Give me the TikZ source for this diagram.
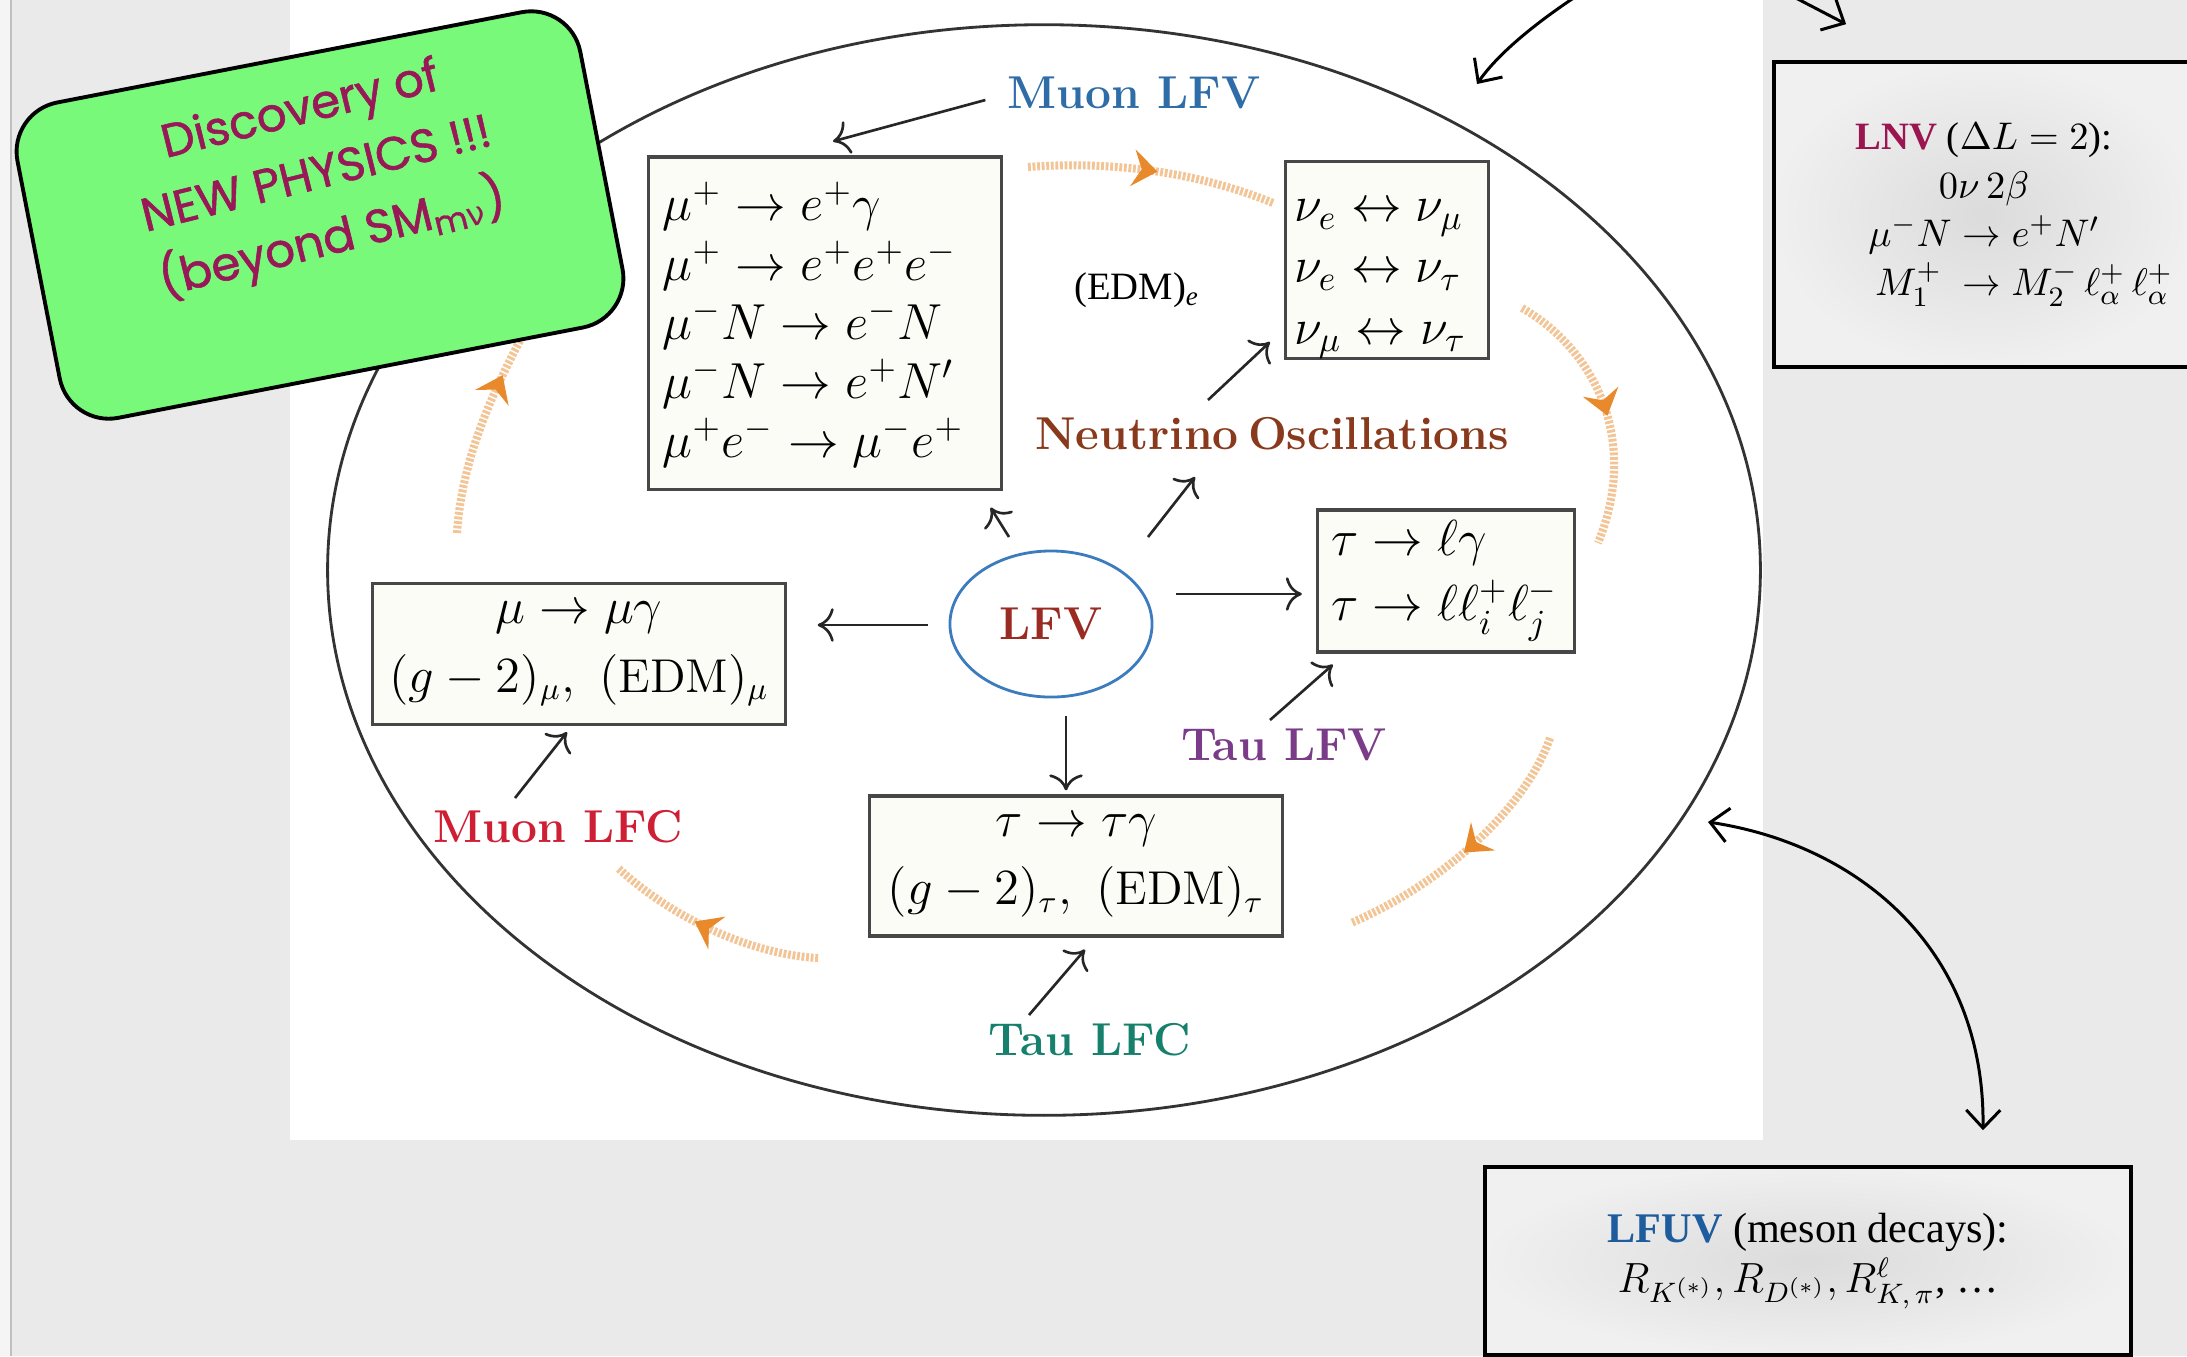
\documentclass[tikz,border=0pt]{standalone}
\usepackage{amsmath}
\usepackage{fontspec}
\usepackage{tikz}
\usetikzlibrary{positioning,arrows.meta,calc,shapes.geometric,decorations.markings}
\newfontfamily\timesfont{Liberation Serif}
\newfontfamily\comicfont{Poppins}[FakeBold=1.2]
\newfontfamily\greekfont{DejaVu Sans}
\definecolor{colFondo}{HTML}{EAEAEA}
\definecolor{colCaja}{HTML}{FCFCF6}
\definecolor{colVerde}{HTML}{78F97A}
\definecolor{colNP}{HTML}{981858}
\definecolor{colNaranja}{HTML}{E8892B}
\definecolor{colMuonLFV}{HTML}{2F6DA8}
\definecolor{colNuOsc}{HTML}{8A3A1C}
\definecolor{colLFV}{HTML}{9A2B22}
\definecolor{colElipse}{HTML}{3C7BBE}
\definecolor{colTauLFV}{HTML}{7A3C88}
\definecolor{colMuonLFC}{HTML}{CF1F35}
\definecolor{colTauLFC}{HTML}{15806C}
\definecolor{colLNV}{HTML}{9B1550}
\definecolor{colLFUV}{HTML}{1E5C9E}

\begin{document}
\begin{tikzpicture}[
        x=0.01cm,
        y=-0.01cm,
        >={To[scale=1.4]},
        barba/.tip={Straight Barb[length=1.8mm,width=3.4mm]},
        etiq/.style={font=\fontsize{13.1}{15}\selectfont\bfseries, inner sep=1pt},
        caja/.style={draw=black!72, line width=0.9pt, fill=colCaja, inner sep=0pt, font=\fontsize{14}{16}\selectfont},
        cajagris/.style={draw=black, line width=1pt, shading=radial, inner color=black!14, outer color=black!6, inner sep=0pt},
        flecha/.style={->, line width=0.75pt, black!85},
        curva/.style={-barba, line width=0.85pt, black},
        naranja/.style={draw=colNaranja!50, line width=2.3pt, dash pattern=on 0.8pt off 0.5pt,
            postaction={decorate},
            decoration={markings, mark=at position #1 with {\fill[colNaranja] (0,0) -- (-2.5mm,1.85mm) -- (-1.6mm,0) -- (-2.5mm,-1.85mm) -- cycle;}}},
        naranja/.default=0.52
    ]
        \useasboundingbox (0,0) rectangle (2187,1356);
        \clip (0,0) rectangle (2187,1356);

        % Fondo: diapositiva gris con la figura blanca encima.
        \fill[colFondo] (0,0) rectangle (2187,1356);
        \fill[black!4] (0,0) rectangle (10,1356);
        \draw[black!25, line width=0.8pt] (11,0) -- (11,1356);
        \fill[white] (290,0) rectangle (1763,1140);

        % Elipse exterior y ciclo naranja.
        \draw[black!80, line width=0.8pt] (1044,570) ellipse [x radius=7.16cm, y radius=5.45cm];
        \draw[naranja] (1028,167) .. controls (1120,160) and (1205,175) .. (1273,203);
        \draw[naranja] (1522,308) .. controls (1595,350) and (1640,440) .. (1598,543);
        \draw[naranja] (1550,738) .. controls (1525,810) and (1440,885) .. (1351,923);
        \draw[naranja=0.58] (818,958) .. controls (760,955) and (680,925) .. (618,868);
        \draw[naranja=0.72] (457,533) .. controls (462,460) and (490,395) .. (532,318);

        % Procesos.
        \node[caja, minimum width=3.52cm, minimum height=3.32cm, text width=3.24cm, align=left, font=\fontsize{14}{16.8}\selectfont] (muonbox) at (825,323)
            {\rule{0pt}{0.42cm}$\mu^+\to e^+\gamma$\\ $\mu^+\to e^+e^+e^-$\\ $\mu^-N\to e^-N$\\ $\mu^-N\to e^+N'$\\ $\mu^+e^-\to\mu^-e^+$};
        \node[caja, minimum width=2.03cm, minimum height=1.96cm, text width=1.85cm, align=left, font=\fontsize{14}{17.4}\selectfont] (nubox) at (1387,260)
            {\rule{0pt}{0.6cm}$\nu_e\leftrightarrow\nu_\mu$\\ $\nu_e\leftrightarrow\nu_\tau$\\ $\nu_\mu\leftrightarrow\nu_\tau$};
        \node[caja, minimum width=2.57cm, minimum height=1.42cm, text width=2.29cm, align=left, font=\fontsize{14}{15.4}\selectfont] (taubox) at (1446,581)
            {$\tau\to\ell\gamma$\\[3pt] $\tau\to\ell\ell_i^+\ell_j^-$};
        \node[caja, minimum width=4.12cm, minimum height=1.41cm, align=center, font=\fontsize{13.5}{15.4}\selectfont] (muclbox) at (579,654)
            {$\mu\to\mu\gamma$\\[4pt] $(g-2)_\mu,\ (\mathrm{EDM})_\mu$};
        \node[caja, minimum width=4.12cm, minimum height=1.40cm, align=center, font=\fontsize{13.5}{15.4}\selectfont] (tauclbox) at (1076,866)
            {$\tau\to\tau\gamma$\\[4pt] $(g-2)_\tau,\ (\mathrm{EDM})_\tau$};
        \node[font=\timesfont\fontsize{11}{13}\selectfont] (edme) at (1137,290) {(EDM)\textsubscript{\itshape e}};

        \node[ellipse, draw=colElipse, line width=0.8pt, minimum width=2.02cm, minimum height=1.46cm, etiq, text=colLFV] (lfv) at (1051,624) {LFV};

        % Etiquetas de cada sector.
        \node[etiq, text=colMuonLFV] (muonlfv) at (1134,93) {Muon LFV};
        \node[etiq, text=colNuOsc] (nuosc) at (1272,434) {Neutrino\hspace{0.2em}Oscillations};
        \node[etiq, text=colTauLFV] (taulfv) at (1284,745) {Tau LFV};
        \node[etiq, text=colMuonLFC] (muonlfc) at (558,827) {Muon LFC};
        \node[etiq, text=colTauLFC] (taulfc) at (1090,1040) {Tau LFC};

        \draw[flecha] ($(muonlfv.west)+(-18,7)$) -- ($(muonbox.north)+(8,-14)$);
        \draw[flecha] ($(nuosc)+(-64,-34)$) -- ($(nubox.south west)+(-14,-18)$);
        \draw[flecha] ($(lfv)+(-42,-87)$) -- ($(muonbox.south east)+(-12,17)$);
        \draw[flecha] ($(lfv)+(97,-87)$) -- ($(nuosc)+(-77,43)$);
        \draw[flecha] ($(lfv.east)+(23,-30)$) -- ($(taubox.west)+(-14,13)$);
        \draw[flecha] ($(lfv.west)+(-21,1)$) -- ($(muclbox.east)+(31,-29)$);
        \draw[flecha] ($(lfv.south)+(15,18)$) -- ($(tauclbox.north)+(-10,-4)$);
        \draw[flecha] ($(taulfv)+(-14,-25)$) -- ($(taubox.south west)+(17,11)$);
        \draw[flecha] ($(muonlfc)+(-43,-29)$) -- ($(muclbox.south)+(-12,6)$);
        \draw[flecha] ($(taulfc)+(-61,-25)$) -- ($(tauclbox.south)+(9,12)$);

        % Recuadro verde girado.
        \node[draw=black, line width=1.1pt, fill=colVerde, rounded corners=0.5cm, rotate=11, minimum width=5.73cm, minimum height=3.21cm] (np) at (320,215) {};
        \node[rotate=14, text=colNP, font=\comicfont\fontsize{13.3}{19}\selectfont, align=center] (nptxt) at (317,177)
            {Discovery of\\NEW PHYSICS !!!\\(beyond SM\textsubscript{m{\greekfont ν}})};

        % Cajas de la derecha (LNV y LFUV).
        \node[cajagris, minimum width=4.2cm, minimum height=3.05cm, align=center, font=\timesfont\fontsize{11}{13.8}\selectfont] (lnv) at (1984,214.5)
            {{\bfseries\color{colLNV}LNV} ($\Delta L=2$):\\ $0\nu\,2\beta$\\ $\mu^-N\to e^+N'$\\ \hspace*{0.8cm}$M_1^+\ \to M_2^-\,\ell_\alpha^+\,\ell_\alpha^+$};
        \node[cajagris, minimum width=6.46cm, minimum height=1.88cm, align=center, font=\timesfont\fontsize{12}{14.2}\selectfont] (lfuv) at (1808,1261)
            {{\bfseries\color{colLFUV}LFUV} (meson decays):\\ $R_{K^{(*)}},R_{D^{(*)}},R^{\ell}_{K,\,\pi}$, \dots};

        \coordinate (arribaIzq) at (1592,-14);
        \coordinate (arribaDer) at (1792,-4);
        \coordinate (elipseSup) at (1477,84);
        \coordinate (elipseDer) at (1708,822);
        \draw[curva] (arribaIzq) .. controls (1535,22) and (1497,55) .. (elipseSup);
        \draw[curva] (arribaDer) -- ($(lnv.north west)+(74,-36)$);
        \draw[curva, barba-barba] (elipseDer) .. controls (1860,845) and (1985,950) .. ($(lfuv.north)+(175,-35)$);
    \end{tikzpicture}
\end{document}
